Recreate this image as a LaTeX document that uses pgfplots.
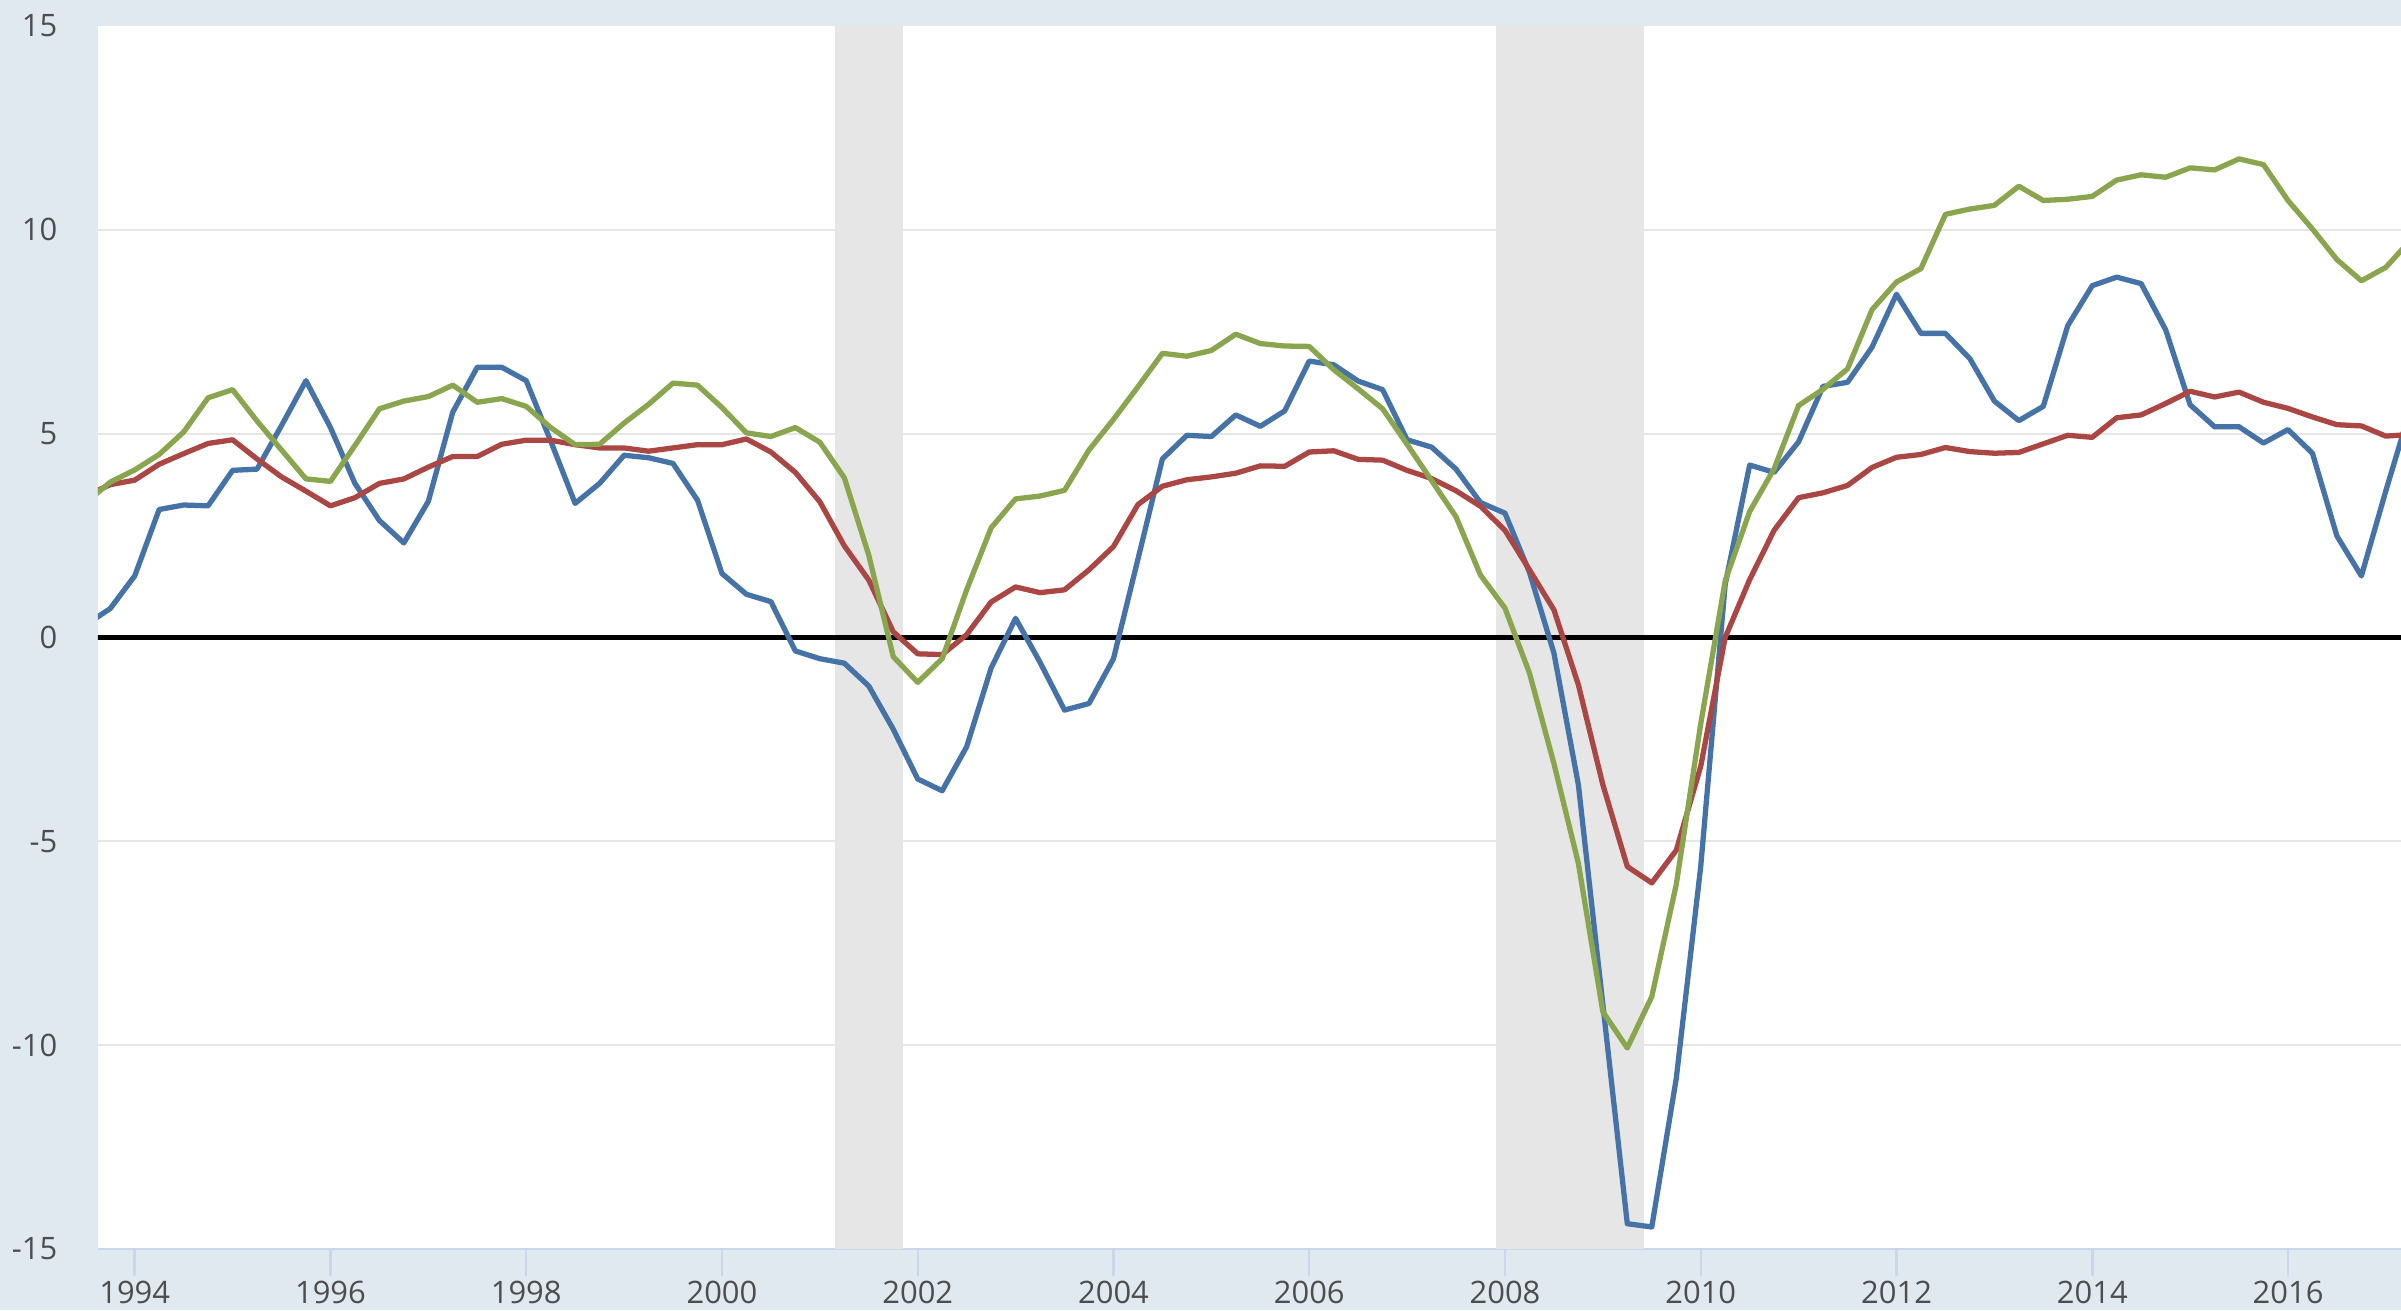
\documentclass[border=0pt]{standalone}
\usepackage{pgfplots}
\pgfplotsset{compat=1.18}
\usepackage{pgfplotstable}
\usepackage{fontspec}
\setmainfont{Open Sans}
\definecolor{bgc}{HTML}{E1E9F0}
\definecolor{recc}{HTML}{E6E6E6}
\definecolor{gridc}{HTML}{E6E6E6}
\definecolor{axisblue}{HTML}{CCD6EB}
\definecolor{labc}{HTML}{4D4D4D}
\definecolor{sblue}{HTML}{4572A7}
\definecolor{sred}{HTML}{AA4643}
\definecolor{sgreen}{HTML}{89A54E}
\pgfplotstableread{
date blue red green
1993.5 0.31 3.47 3.31
1993.75 0.71 3.75 3.81
1994 1.51 3.86 4.11
1994.25 3.14 4.25 4.49
1994.5 3.25 4.51 5.04
1994.75 3.23 4.76 5.88
1995 4.10 4.85 6.08
1995.25 4.13 4.38 5.31
1995.5 5.2 3.94 4.60
1995.75 6.30 3.59 3.89
1996 5.15 3.23 3.83
1996.25 3.78 3.43 4.71
1996.5 2.87 3.78 5.61
1996.75 2.32 3.89 5.80
1997 3.34 4.18 5.91
1997.25 5.53 4.44 6.19
1997.5 6.63 4.44 5.77
1997.75 6.63 4.74 5.86
1998 6.30 4.84 5.67
1998.25 4.82 4.84 5.15
1998.5 3.29 4.73 4.73
1998.75 3.78 4.65 4.74
1999 4.47 4.65 5.26
1999.25 4.41 4.57 5.72
1999.5 4.27 4.65 6.24
1999.75 3.37 4.73 6.19
2000 1.57 4.73 5.64
2000.25 1.06 4.87 5.02
2000.5 0.88 4.55 4.93
2000.75 -0.33 4.05 5.15
2001 -0.52 3.33 4.79
2001.25 -0.63 2.25 3.92
2001.5 -1.19 1.41 2.02
2001.75 -2.25 0.14 -0.47
2002 -3.47 -0.40 -1.10
2002.25 -3.76 -0.42 -0.52
2002.5 -2.68 0.07 1.17
2002.75 -0.75 0.87 2.69
2003 0.47 1.24 3.40
2003.25 -0.61 1.10 3.47
2003.5 -1.78 1.17 3.61
2003.75 -1.62 1.66 4.60
2004 -0.52 2.23 5.35
2004.25 1.92 3.26 6.15
2004.5 4.38 3.71 6.97
2004.75 4.96 3.87 6.90
2005 4.93 3.94 7.04
2005.25 5.46 4.03 7.44
2005.5 5.18 4.21 7.21
2005.75 5.56 4.20 7.15
2006 6.78 4.55 7.14
2006.25 6.69 4.58 6.57
2006.5 6.29 4.37 6.10
2006.75 6.08 4.35 5.61
2007 4.85 4.10 4.74
2007.25 4.67 3.90 3.85
2007.5 4.13 3.60 2.96
2007.75 3.31 3.22 1.53
2008 3.05 2.63 0.72
2008.25 1.6 1.66 -0.87
2008.5 -0.38 0.68 -3.09
2008.75 -3.61 -1.16 -5.54
2009 -9.0 -3.61 -9.18
2009.25 -14.38 -5.62 -10.07
2009.5 -14.46 -6.02 -8.81
2009.75 -10.82 -5.22 -6.06
2010 -5.62 -3.16 -2.12
2010.25 1.3 0.0 1.39
2010.5 4.23 1.42 3.09
2010.75 4.05 2.63 4.14
2011 4.80 3.43 5.69
2011.25 6.16 3.55 6.09
2011.5 6.26 3.73 6.59
2011.75 7.12 4.17 8.04
2012 8.42 4.42 8.72
2012.25 7.46 4.49 9.05
2012.5 7.46 4.66 10.38
2012.75 6.84 4.56 10.51
2013 5.80 4.52 10.60
2013.25 5.32 4.54 11.07
2013.5 5.67 4.75 10.72
2013.75 7.65 4.96 10.75
2014 8.63 4.91 10.82
2014.25 8.84 5.39 11.22
2014.5 8.68 5.46 11.35
2014.75 7.55 5.74 11.29
2015 5.71 6.04 11.52
2015.25 5.17 5.90 11.47
2015.5 5.17 6.02 11.74
2015.75 4.77 5.77 11.60
2016 5.10 5.62 10.72
2016.25 4.52 5.41 10.02
2016.5 2.49 5.22 9.27
2016.75 1.51 5.19 8.75
2017 3.6 4.94 9.08
2017.25 5.6 4.98 9.74
}\datatable
\begin{document}
\begin{tikzpicture}
\useasboundingbox (-0.98,-0.61) rectangle (23.03,12.49);
\fill[bgc] (-0.98,-0.61) rectangle (23.03,12.49);
\begin{axis}[
  at={(0,0)}, anchor=south west,
  scale only axis, width=23.03cm, height=12.23cm,
  xmin=1993.625, xmax=2017.155, ymin=-15, ymax=15,
  axis background/.style={fill=white},
  axis x line*=bottom, axis y line*=left,
  x axis line style={draw=axisblue, line width=0.8pt},
  y axis line style={draw=none},
  tick align=outside, major tick length=0.27cm,
  xtick={1994,1996,...,2016},
  xticklabels={1994,1996,1998,2000,2002,2004,2006,2008,2010,2012,2014,2016},
  xtick style={draw=axisblue, line width=0.7pt},
  ytick={-10,-5,0,5,10},
  yticklabels={-10,-5,0,5,10},
  extra y ticks={-15,15},
  extra y tick labels={-15,15},
  extra y tick style={grid=none},
  ytick style={draw=none},
  ymajorgrids, grid style={gridc, line width=0.6pt},
  tick label style={font=\fontsize{8.8pt}{10pt}\selectfont, text=labc},
  yticklabel style={anchor=east, inner sep=0pt, xshift=-0.13cm},
  xticklabel style={anchor=north, inner sep=0pt, yshift=-0.04cm},
  clip=true,
]
\addplot[draw=none, fill=recc] coordinates {(2001.16,-15) (2001.16,15) (2001.85,15) (2001.85,-15)} -- cycle;
\addplot[draw=none, fill=recc] coordinates {(2007.91,-15) (2007.91,15) (2009.42,15) (2009.42,-15)} -- cycle;
\addplot[black, line width=1.35pt] coordinates {(1993,0) (2018,0)};
\addplot[sblue, line width=1.5pt, line join=round] table[x=date, y=blue] {\datatable};
\addplot[sred, line width=1.5pt, line join=round] table[x=date, y=red] {\datatable};
\addplot[sgreen, line width=1.5pt, line join=round] table[x=date, y=green] {\datatable};
\end{axis}
\end{tikzpicture}
\end{document}
